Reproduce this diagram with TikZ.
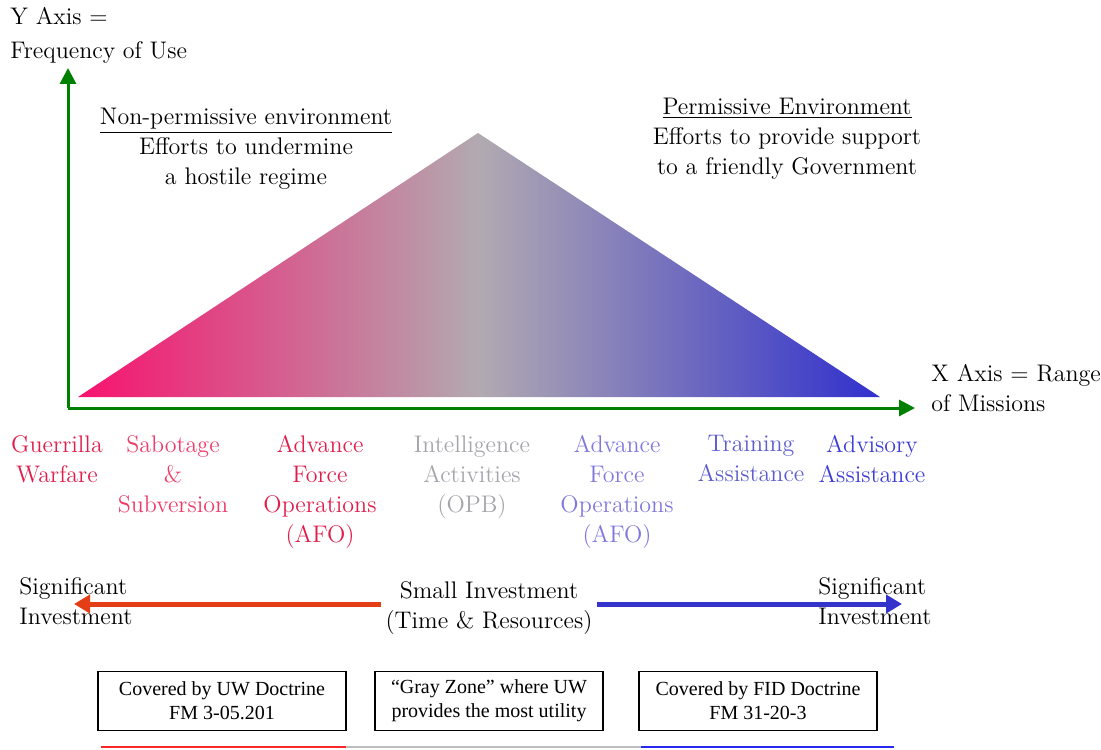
\documentclass[tikz,border=0pt]{standalone}
\usepackage{fontspec}
\usepackage{tikz}
\usetikzlibrary{positioning}
\usetikzlibrary{arrows.meta}
\newfontfamily\boxfont[Ligatures=TeX]{Liberation Serif}

\definecolor{axisgreen}{RGB}{0,128,0}
\definecolor{uwpink}{RGB}{248,18,110}
\definecolor{zonegray}{RGB}{178,170,176}
\definecolor{fidblue}{RGB}{48,48,205}
\definecolor{uwred}{RGB}{225,30,75}
\definecolor{uwrose}{RGB}{238,60,105}
\definecolor{intelgray}{RGB}{165,165,172}
\definecolor{afoblue}{RGB}{128,120,220}
\definecolor{trainblue}{RGB}{92,92,205}
\definecolor{advblue}{RGB}{60,60,215}
\definecolor{costred}{RGB}{228,62,22}
\definecolor{costblue}{RGB}{52,52,205}
\definecolor{linered}{RGB}{250,40,40}
\definecolor{linegray}{RGB}{190,190,190}
\definecolor{lineblue}{RGB}{40,40,240}

\pgfdeclarehorizontalshading{uwfid}{100bp}{color(0bp)=(uwpink); color(25bp)=(uwpink);
  color(50bp)=(zonegray); color(75bp)=(fidblue); color(100bp)=(fidblue)}

\begin{document}
\begin{tikzpicture}[x=0.5pt,y=-0.5pt,font=\fontsize{12}{15}\selectfont,
    axis/.style={draw=axisgreen,line width=1.5pt,-{Triangle[length=8pt,width=8pt]}},
    mission/.style={anchor=north,align=center,inner sep=0pt},
    cost/.style={line width=2.5pt,-{Triangle[length=8pt,width=9pt]}},
    doctrine/.style={draw,line width=0.6pt,minimum width=#1,minimum height=29.5pt,
        align=center,font=\boxfont\fontsize{10}{12}\selectfont}]
    \useasboundingbox (0,0) rectangle (1101,749);

    % triangle of missions
    \shade[shading=uwfid] (78,397) -- (478,133) -- (880,397) -- cycle;

    % axes
    \coordinate (origin) at (68,408);
    \coordinate (ytip) at (68,68);
    \coordinate (xtip) at (915,408);
    \draw[axis] (origin) -- (ytip);
    \draw[axis] (origin) -- (xtip);
    \node[anchor=north west,align=left,inner sep=0pt] (ylabel) at (10,7)
        {Y Axis =\\[2pt]Frequency of Use};
    \node[anchor=north west,align=left,inner sep=0pt] (xlabel) at (931,364)
        {X Axis = Range\\of Missions};

    % environments
    \node[anchor=north,align=center,inner sep=0pt] (nonperm) at (246,108)
        {\underline{Non-permissive environment}\\Efforts to undermine\\a hostile regime};
    \node[anchor=north,align=center,inner sep=0pt] (perm) at (787,98)
        {\underline{Permissive Environment}\\Efforts to provide support\\to a friendly Government};

    % missions
    \node[mission,text=uwred] (guerrilla) at (57,435) {Guerrilla\\Warfare};
    \node[mission,text=uwrose] (sabotage) at (173,435) {Sabotage\\\&\\Subversion};
    \node[mission,text=uwred] (afoleft) at (320,435) {Advance\\Force\\Operations\\(AFO)};
    \node[mission,text=intelgray] (intel) at (472,435) {Intelligence\\Activities\\(OPB)};
    \node[mission,text=afoblue] (aforight) at (617,435) {Advance\\Force\\Operations\\(AFO)};
    \node[mission,text=trainblue] (training) at (751,435) {Training\\Assistance};
    \node[mission,text=advblue] (advisory) at (872,435) {Advisory\\Assistance};

    % investment
    \node[anchor=north,align=center,inner sep=2pt] (small) at (489,577)
        {Small Investment\\(Time \& Resources)};
    \node[anchor=north west,align=left,inner sep=0pt] (sigleft) at (19,577)
        {Significant\\Investment};
    \node[anchor=north west,align=left,inner sep=0pt] (sigright) at (818,577)
        {Significant\\Investment};
    \coordinate (lefttip) at (74,604);
    \coordinate (righttip) at (902,604);
    \draw[cost,draw=costred,fill=costred] (small.west |- lefttip) -- (lefttip);
    \draw[cost,draw=costblue,fill=costblue] (small.east |- righttip) -- (righttip);

    % doctrine boxes
    \node[doctrine=124pt] (uwbox) at (222,701) {Covered by UW Doctrine\\FM 3-05.201};
    \node[doctrine=114pt] (graybox) at (489,701) {“Gray Zone” where UW\\provides the most utility};
    \node[doctrine=119pt] (fidbox) at (758,701) {Covered by FID Doctrine\\FM 31-20-3};

    % bottom bar
    \coordinate (bar0) at (101,747);
    \coordinate (bar1) at (346,747);
    \coordinate (bar2) at (641,747);
    \coordinate (bar3) at (894,747);
    \draw[linered,line width=1pt] (bar0) -- (bar1);
    \draw[linegray,line width=1pt] (bar1) -- (bar2);
    \draw[lineblue,line width=1pt] (bar2) -- (bar3);
\end{tikzpicture}
\end{document}
